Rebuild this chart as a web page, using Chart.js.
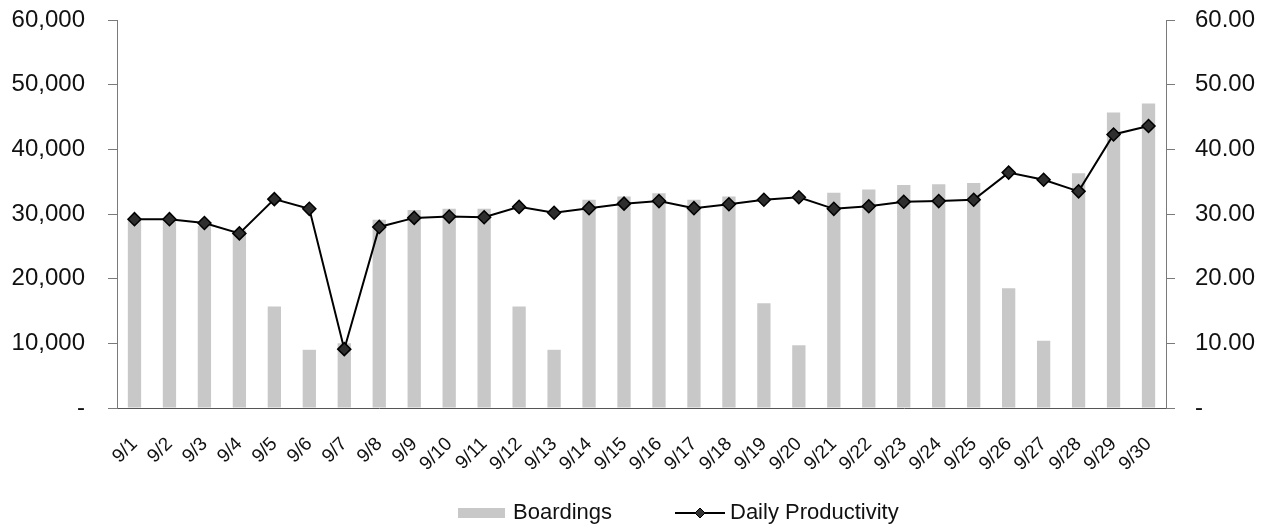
<!DOCTYPE html>
<html>
<head>
<meta charset="utf-8">
<script src="https://cdn.jsdelivr.net/npm/chart.js@4.4.0/dist/chart.umd.min.js"></script>
<style>
  body { margin: 0; background: #fff; }
</style>
</head>
<body>
<canvas id="chartjs-0" width="1270" height="525"></canvas>
<script>
const days = ["9/1", "9/2", "9/3", "9/4", "9/5", "9/6", "9/7", "9/8", "9/9", "9/10",
    "9/11", "9/12", "9/13", "9/14", "9/15", "9/16", "9/17", "9/18", "9/19", "9/20",
    "9/21", "9/22", "9/23", "9/24", "9/25", "9/26", "9/27", "9/28", "9/29", "9/30"];

const boardings = [29300, 29200, 28200, 27500, 15700, 9000, 10000, 29100, 30600, 30800,
    30800, 15700, 9000, 32200, 32700, 33200, 32200, 32700, 16200, 9700,
    33300, 33800, 34500, 34600, 34800, 18500, 10400, 36300, 45700, 47100];

const productivity = [29.2, 29.2, 28.6, 27.0, 32.3, 30.8, 9.1, 28.0, 29.4, 29.6,
    29.5, 31.1, 30.2, 30.9, 31.6, 32.0, 30.9, 31.5, 32.2, 32.6,
    30.8, 31.2, 31.9, 32.0, 32.2, 36.4, 35.3, 33.5, 42.3, 43.6];

const barColor = "#c8c8c8";
const textColor = "#111";
const axisColor = "#7a7a7a";
const fontFamily = "'Liberation Sans', Arial, sans-serif";

Chart.defaults.font.family = fontFamily;
Chart.defaults.color = textColor;

// legend drawn under the axis labels, spaced like the original
const bottomLegend = {
    id: "bottomLegend",
    afterDraw(chart) {
        const c = chart.ctx;
        const sets = chart.data.datasets;
        const y = 513;
        c.save();
        c.font = "22px " + fontFamily;
        c.textBaseline = "middle";
        c.textAlign = "left";

        c.fillStyle = sets[0].backgroundColor;
        c.fillRect(458, 508, 47, 10);
        c.fillStyle = textColor;
        c.fillText(sets[0].label, 513, y);

        c.strokeStyle = "#000";
        c.lineWidth = 2;
        c.beginPath();
        c.moveTo(675, y);
        c.lineTo(725, y);
        c.stroke();
        c.beginPath();
        c.moveTo(700, y - 5);
        c.lineTo(705, y);
        c.lineTo(700, y + 5);
        c.lineTo(695, y);
        c.closePath();
        c.fillStyle = "#333";
        c.fill();
        c.lineWidth = 1;
        c.stroke();
        c.fillStyle = textColor;
        c.fillText(sets[1].label, 730, y);
        c.restore();
    }
};

// fixed axis box sizes; drop the label overhang so the plot starts at the top padding
function fixWidth(w) {
    return function (scale) {
        scale.width = w;
        scale.paddingTop = 0;
        scale.paddingBottom = 0;
    };
}

const ctx = document.getElementById("chartjs-0").getContext("2d");

const chart = new Chart(ctx, {
    type: "bar",
    data: {
        labels: days,
        datasets: [{
            label: "Boardings",
            data: boardings,
            backgroundColor: barColor,
            borderWidth: 0,
            barPercentage: 0.38,
            categoryPercentage: 1,
            yAxisID: "y",
            order: 2
        }, {
            type: "line",
            label: "Daily Productivity",
            data: productivity,
            borderColor: "#000",
            borderWidth: 2,
            pointStyle: "rectRot",
            pointRadius: 6.5,
            pointBackgroundColor: "#2e2e2e",
            pointBorderColor: "#000",
            pointBorderWidth: 1.5,
            tension: 0,
            yAxisID: "y1",
            order: 1
        }]
    },
    options: {
        responsive: false,
        animation: false,
        layout: {
            padding: { left: 0, right: 0, top: 20, bottom: 0 }
        },
        plugins: {
            tooltip: { enabled: false },
            legend: { display: false }
        },
        scales: {
            x: {
                offset: true,
                grid: { display: false },
                border: { display: true, color: "#555", width: 1 },
                ticks: {
                    autoSkip: false,
                    minRotation: 45,
                    maxRotation: 45,
                    padding: 17,
                    font: { size: 19 },
                    color: textColor
                },
                afterFit: function (scale) { scale.height = 117; }
            },
            y: {
                position: "left",
                min: 0,
                max: 60000,
                ticks: {
                    stepSize: 10000,
                    padding: 23,
                    font: { size: 24 },
                    color: textColor,
                    callback: v => v === 0 ? "-" : v.toLocaleString("en-US")
                },
                grid: { drawOnChartArea: false, drawTicks: true, tickLength: 9, color: axisColor },
                border: { display: true, color: axisColor, width: 1 },
                afterFit: fixWidth(117)
            },
            y1: {
                position: "right",
                min: 0,
                max: 60,
                ticks: {
                    stepSize: 10,
                    padding: 20,
                    font: { size: 24 },
                    color: textColor,
                    callback: v => v === 0 ? "-" : v.toFixed(2)
                },
                grid: { drawOnChartArea: false, drawTicks: true, tickLength: 9, color: axisColor },
                border: { display: true, color: axisColor, width: 1 },
                afterFit: fixWidth(104)
            }
        }
    },
    plugins: [bottomLegend]
});
</script>
</body>
</html>
